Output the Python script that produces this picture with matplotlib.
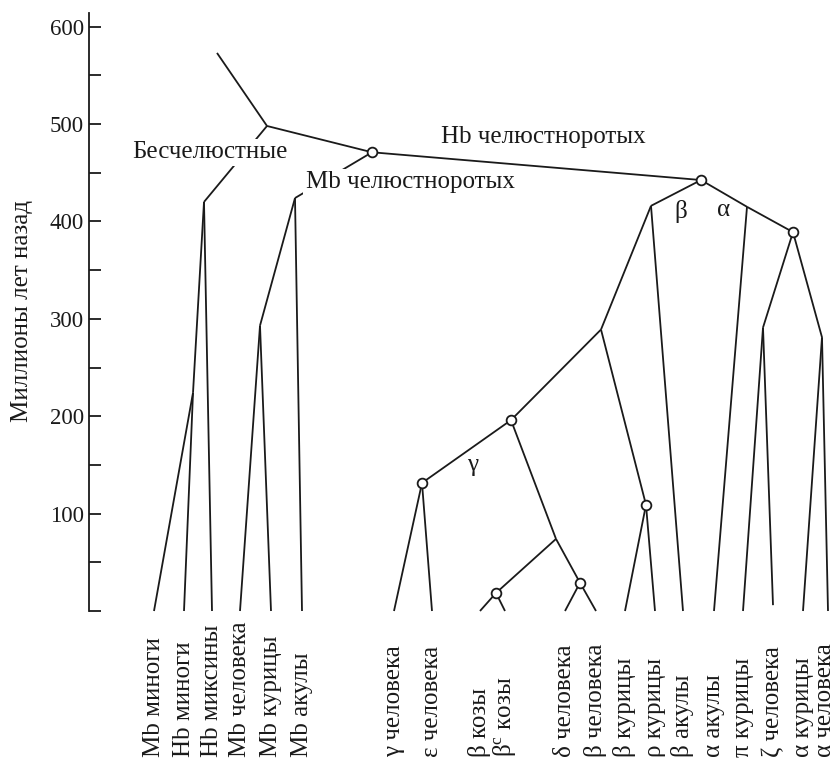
import matplotlib
matplotlib.use("Agg")
import matplotlib.pyplot as plt
from matplotlib.ticker import MultipleLocator, FixedLocator

plt.rcParams['font.family'] = ['Liberation Serif', 'DejaVu Serif']
plt.rcParams['mathtext.fontset'] = 'custom'
plt.rcParams['mathtext.rm'] = 'Liberation Serif'
plt.rcParams['mathtext.it'] = 'Liberation Serif:italic'

# ---- data -------------------------------------------------------------
# leaves (present day, age 0 unless stated)
leaf_names = ["Mb миноги", "Hb миноги", "Hb миксины", "Mb человека", "Mb курицы",
              "Mb акулы", "γ человека", "ε человека", "β козы", r"β$^{\mathrm{c}}$ козы",
              "δ человека", "β человека", "β курицы", "ρ курицы", "β акулы",
              "α акулы", "π курицы", "ζ человека", "α курицы", "α человека"]
leaf_ages = [0, 0, 0, 0, 0, 0, 0, 0, 0, 0, 0, 0, 0, 0, 0, 0, 0, 6, 0, 0]

# internal nodes: name -> age (million years ago)
node_names = ["root", "A", "B", "B2", "C", "D", "F", "E", "G", "Aa", "H",
              "J", "K", "I", "L", "N", "O", "P", "Q", "M"]
node_ages = [573, 498, 420, 224, 471, 424, 293, 442.5, 416, 415, 389,
             291, 281, 289, 196, 131.5, 74, 18.5, 29, 109]
# nodes marked with a circle (gene duplication)
circle_nodes = ["C", "E", "H", "L", "N", "P", "Q", "M"]

# tree topology: parent -> children
edges = [("root", "A"), ("A", "B"), ("A", "C"),
         ("B", "B2"), ("B", "Hb миксины"),
         ("B2", "Mb миноги"), ("B2", "Hb миноги"),
         ("C", "D"), ("C", "E"),
         ("D", "F"), ("D", "Mb акулы"),
         ("F", "Mb человека"), ("F", "Mb курицы"),
         ("E", "G"), ("E", "Aa"),
         ("Aa", "H"), ("Aa", "α акулы"),
         ("G", "I"), ("G", "β акулы"),
         ("I", "L"), ("I", "M"),
         ("L", "N"), ("L", "O"),
         ("N", "γ человека"), ("N", "ε человека"),
         ("O", "P"), ("O", "Q"),
         ("P", "β козы"), ("P", r"β$^{\mathrm{c}}$ козы"),
         ("Q", "δ человека"), ("Q", "β человека"),
         ("M", "β курицы"), ("M", "ρ курицы"),
         ("H", "J"), ("H", "K"),
         ("J", "π курицы"), ("J", "ζ человека"),
         ("K", "α курицы"), ("K", "α человека")]

y_ticks = [0, 100, 200, 300, 400, 500, 600]
y_tick_labels = ["", "100", "200", "300", "400", "500", "600"]

# ---- layout (horizontal positions) -----------------------------------
leaf_x = [154, 184, 212, 240, 271, 302, 394, 432, 480, 505,
          565, 596, 625, 655, 683, 714, 743, 773, 803, 828]
node_x = [217, 267, 204, 193, 372, 295, 260, 701, 651, 747, 793,
          763, 822, 601, 511, 422, 556, 496, 580, 646]

pos = {}
for n, x, a in zip(leaf_names, leaf_x, leaf_ages):
    pos[n] = (x, a)
for n, x, a in zip(node_names, node_x, node_ages):
    pos[n] = (x, a)

# ---- figure -------------------------------------------------------------
W, H = 837, 761
fig = plt.figure(figsize=(W / 100, H / 100), dpi=100)
ax = fig.add_axes([89.5 / W, 150 / H, (W - 89.5) / W, (611 - 13) / H])
ax.set_xlim(89.5, W)
ax.set_ylim(0, 614)

ink = '#1a1a1a'
lw = 1.3
for p, c in edges:
    (x0, y0), (x1, y1) = pos[p], pos[c]
    ax.plot([x0, x1], [y0, y1], color=ink, lw=lw, solid_capstyle='butt',
            zorder=2, clip_on=False)

for n in circle_nodes:
    x, a = pos[n]
    ax.plot([x], [a], 'o', ms=7, mfc='white', mec=ink, mew=1.3, zorder=4,
            clip_on=False)

fs = 18
# leaf labels (the last one nudged so it stays inside the canvas)
for i, (n, x) in enumerate(zip(leaf_names, leaf_x)):
    dx = -3 if i == len(leaf_names) - 1 else 0
    ax.text(x + dx, -150, n, rotation=90, ha='center', va='bottom', fontsize=fs,
            color=ink, clip_on=False)

# branch annotations
bb = dict(facecolor='white', edgecolor='none', pad=2)
ax.text(210, 471, "Бесчелюстные", ha='center', va='center', fontsize=fs,
        color=ink, bbox=bb, zorder=3)
ax.text(410, 440, "Mb челюстноротых", ha='center', va='center', fontsize=fs,
        color=ink, bbox=bb, zorder=3)
ax.text(543, 487, "Hb челюстноротых", ha='center', va='center', fontsize=fs,
        color=ink, zorder=3)
ax.text(681, 410, "β", ha='center', va='center', fontsize=fs, color=ink)
ax.text(724, 412, "α", ha='center', va='center', fontsize=fs, color=ink)
ax.text(473, 150, "γ", ha='center', va='center', fontsize=fs, color=ink)

# axes styling
for s in ['top', 'right', 'bottom']:
    ax.spines[s].set_visible(False)
ax.spines['left'].set_linewidth(1.3)
ax.spines['left'].set_color(ink)
ax.set_xticks([])
ax.yaxis.set_major_locator(FixedLocator(y_ticks))
ax.set_yticklabels(y_tick_labels)
ax.yaxis.set_minor_locator(MultipleLocator(50))
ax.tick_params(axis='y', which='both', direction='in', length=8.5, width=1.3,
               color=ink, labelsize=16.5, pad=4, labelcolor=ink)
ax.set_ylabel("Миллионы лет назад", fontsize=fs, color=ink)
ax.yaxis.set_label_coords((33 - 89.5) / (W - 89.5), (611 - 311) / 598)
ax.patch.set_alpha(0)

fig.savefig("out.png", dpi=100)
